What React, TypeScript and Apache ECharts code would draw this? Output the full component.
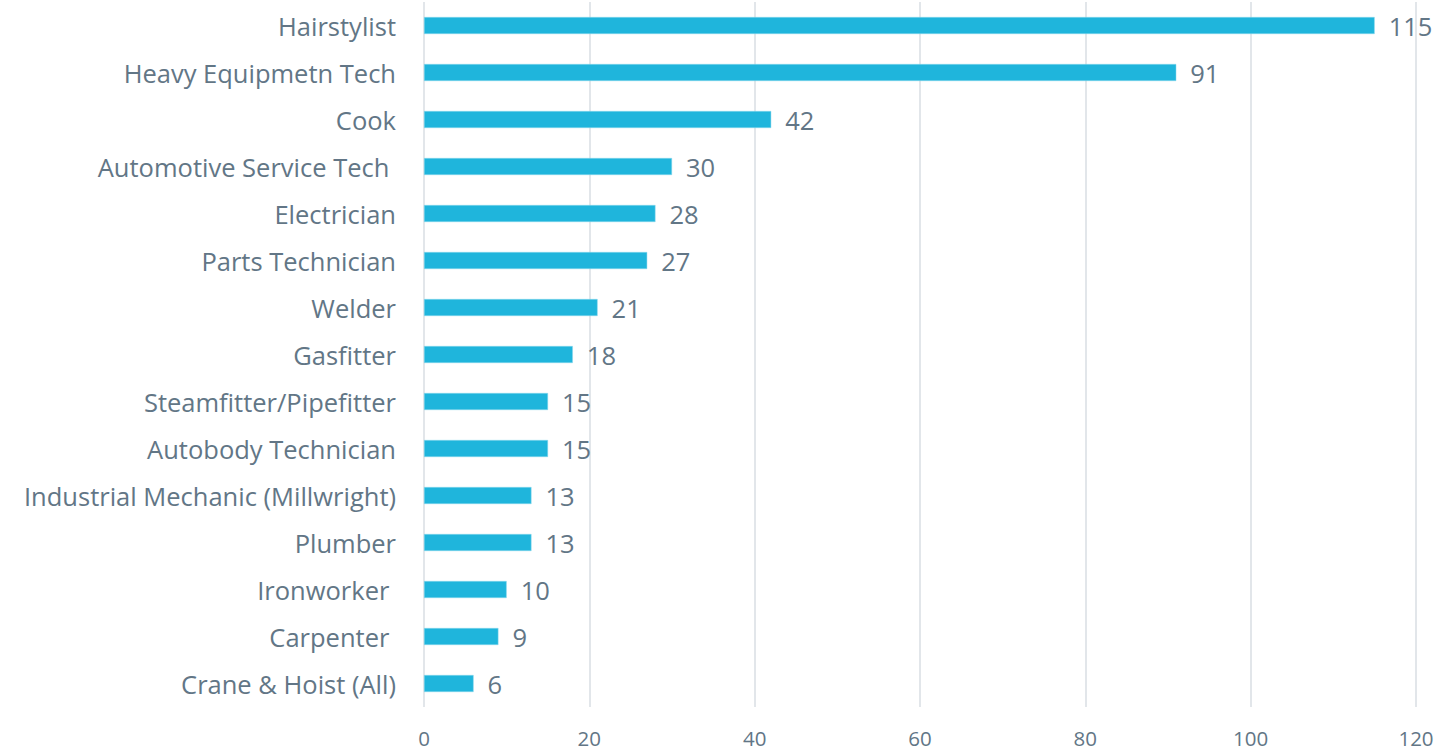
import React, { useEffect, useRef } from "react";
import * as echarts from "echarts";

const categories = [
  "Hairstylist",
  "Heavy Equipmetn Tech",
  "Cook",
  "Automotive Service Tech ",
  "Electrician",
  "Parts Technician",
  "Welder",
  "Gasfitter",
  "Steamfitter/Pipefitter",
  "Autobody Technician",
  "Industrial Mechanic (Millwright)",
  "Plumber",
  "Ironworker ",
  "Carpenter ",
  "Crane & Hoist (All)",
];
const values = [115, 91, 42, 30, 28, 27, 21, 18, 15, 15, 13, 13, 10, 9, 6];
const xTicks = { min: 0, max: 120, interval: 20 };

export default function App() {
  const ref = useRef<HTMLDivElement>(null);
  useEffect(() => {
    if (!ref.current) return;
    const chart = echarts.init(ref.current, null, { renderer: "svg" });
    const font = "'Open Sans', sans-serif";
    const textColor = "#627686";
    chart.setOption({
      animation: false,
      grid: { left: 424, right: 21, top: 2, bottom: 43, containLabel: false },
      xAxis: {
        type: "value",
        min: xTicks.min,
        max: xTicks.max,
        interval: xTicks.interval,
        axisLine: { show: false },
        axisTick: { show: false },
        splitLine: { show: true, lineStyle: { color: "#d9dee3", width: 1.5 } },
        axisLabel: { color: textColor, fontSize: 20.5, fontFamily: font, margin: 20 },
      },
      yAxis: {
        type: "category",
        inverse: true,
        data: categories,
        axisLine: { show: false },
        axisTick: { show: false },
        axisLabel: { color: textColor, fontSize: 25.5, fontFamily: font, margin: 28 },
      },
      series: [
        {
          type: "bar",
          data: values,
          barWidth: 17,
          itemStyle: { color: "#1fb5dc", borderColor: "#8fd8ec", borderWidth: 0.5 },
          label: {
            show: true,
            position: "right",
            distance: 14,
            color: textColor,
            fontSize: 25.5,
            fontFamily: font,
          },
        },
      ],
    });
    return () => chart.dispose();
  }, []);
  return (
    <div
      ref={ref}
      style={{ position: "absolute", left: 0, top: 0, width: 1437, height: 750 }}
    />
  );
}
